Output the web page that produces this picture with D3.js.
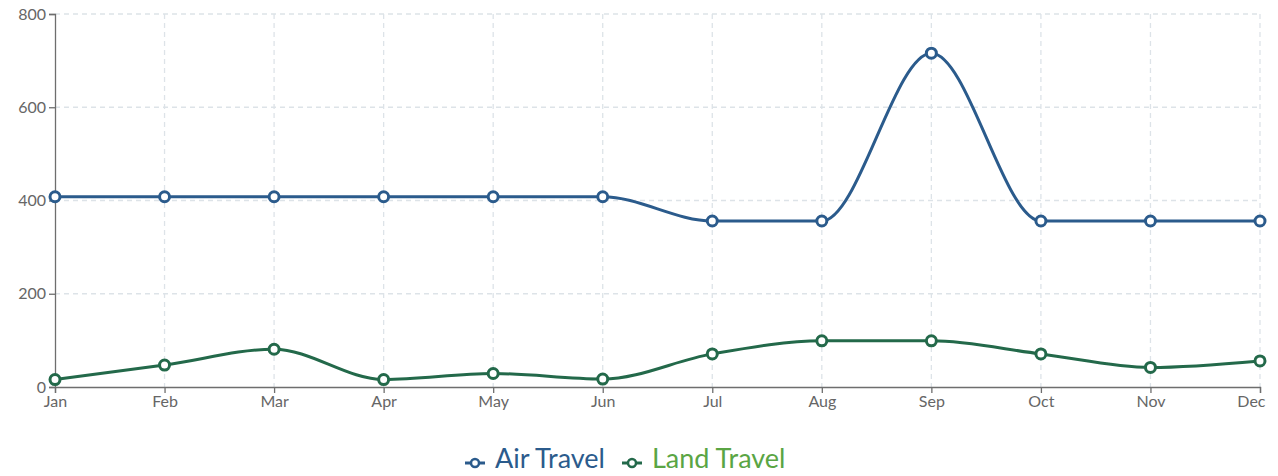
<!DOCTYPE html>
<html><head><meta charset="utf-8">
<script src="https://cdn.jsdelivr.net/npm/d3@7"></script>
<style>
body{margin:0;background:#fff;font-family:Lato,"DejaVu Sans",sans-serif;}
</style></head>
<body><svg id="chart" width="1278" height="476"></svg>
<script>
const months = ["Jan","Feb","Mar","Apr","May","Jun","Jul","Aug","Sep","Oct","Nov","Dec"];
const airTravel = [408,408,408,408,408,408,356,356,716,356,356,356];
const landTravel = [16,47,81,16,29,17,71,99,99,71,42,56];
const yTicks = [0,200,400,600,800];
const seriesNames = ["Air Travel","Land Travel"];
const lineColors = ["#2b5b8c","#23694a"];
const textColors = ["#2b5b8c","#5aa544"];

const svg = d3.select("#chart");
const m = {l:55, r:18, t:14, b:89};
const W = 1278, H = 476;
const x = d3.scalePoint().domain(months).range([m.l, W - m.r]);
const y = d3.scaleLinear().domain([0,800]).range([H - m.b, m.t]);

// grid
const g = svg.append("g");
g.selectAll(".hg").data(yTicks.slice(1)).join("line")
  .attr("x1", m.l).attr("x2", W - m.r)
  .attr("y1", d=>y(d)).attr("y2", d=>y(d))
  .attr("stroke","#dde3e8").attr("stroke-dasharray","5,4").attr("stroke-width",1.3);
g.selectAll(".vg").data(months.slice(1)).join("line")
  .attr("x1", d=>x(d)).attr("x2", d=>x(d))
  .attr("y1", m.t).attr("y2", H - m.b)
  .attr("stroke","#dde3e8").attr("stroke-dasharray","5,4").attr("stroke-width",1.3);

// axes
const yAxis = svg.append("g").attr("transform",`translate(${m.l},0)`)
  .call(d3.axisLeft(y).tickValues(yTicks).tickSize(6).tickPadding(3));
const xAxis = svg.append("g").attr("transform",`translate(0,${H - m.b})`)
  .call(d3.axisBottom(x).tickSize(6).tickPadding(3));
[yAxis,xAxis].forEach(a=>{
  a.select(".domain").attr("stroke","#6e6e6e").attr("stroke-width",1.3);
  a.selectAll(".tick line").attr("stroke","#6e6e6e").attr("stroke-width",1.3);
  a.selectAll(".tick text").attr("fill","#666").style("font-family","Lato").style("font-size","16px");
});
// keep last label inside the chart
xAxis.selectAll(".tick").filter(d=>d===months[months.length-1]).select("text")
  .attr("text-anchor","end").attr("x",5);

// lines
const data = [airTravel, landTravel];
const line = d3.line().x((d,i)=>x(months[i])).y(d=>y(d)).curve(d3.curveMonotoneX);
data.forEach((vals,si)=>{
  svg.append("path").datum(vals).attr("d", line)
    .attr("fill","none").attr("stroke", lineColors[si]).attr("stroke-width",3);
  svg.selectAll(".pt"+si).data(vals).join("circle")
    .attr("cx",(d,i)=>x(months[i])).attr("cy", d=>y(d)).attr("r",5)
    .attr("fill","#fff").attr("stroke", lineColors[si]).attr("stroke-width",3);
});

// legend
const legend = svg.append("g");
const lx = [465, 622];
seriesNames.forEach((name,i)=>{
  const lg = legend.append("g").attr("transform",`translate(${lx[i]},463)`);
  lg.append("line").attr("x1",0).attr("x2",20).attr("y1",0).attr("y2",0)
    .attr("stroke", lineColors[i]).attr("stroke-width",3);
  lg.append("circle").attr("cx",10).attr("cy",0).attr("r",4)
    .attr("fill","#fff").attr("stroke", lineColors[i]).attr("stroke-width",2.5);
  lg.append("text").attr("x",30).attr("y",5).text(name)
    .attr("fill", textColors[i]).style("font-family","Lato").style("font-size","27px");
});
</script></body></html>
